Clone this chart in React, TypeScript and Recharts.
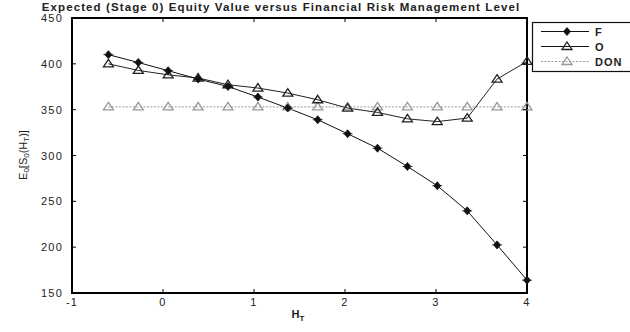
import React from 'react';
import { LineChart, Line, XAxis, YAxis } from 'recharts';

const hValues = [-0.6, -0.271, 0.057, 0.386, 0.714, 1.043, 1.371, 1.7, 2.029, 2.357, 2.686, 3.014, 3.343, 3.671, 4.0];
const fValues = [410, 401.5, 392.5, 383.4, 375.3, 363.8, 351.7, 339, 323.7, 308, 288, 267, 239.6, 202.5, 164];
const oValues = [400, 392.8, 388, 384.5, 377.2, 373.6, 368.1, 360.8, 351.7, 347, 340, 337, 340.8, 383.4, 402.6];
const donValues = [353, 353, 353, 353, 353, 353, 353, 353, 353, 353, 353, 353, 353, 353, 353];
const xTicks = [-1, 0, 1, 2, 3, 4];
const yTicks = [150, 200, 250, 300, 350, 400, 450];
const seriesNames = ['F', 'O', 'DON'];

const data = hValues.map((h, i) => ({ h, F: fValues[i], O: oValues[i], DON: donValues[i] }));

const FONT = '"Liberation Sans", Arial, sans-serif';
const PLOT = { left: 72, top: 18, right: 527, bottom: 293 };

const XTick = (props: any) => {
  const { x, y, payload } = props;
  return (
    <g>
      <line x1={x} y1={y} x2={x} y2={y - 4} stroke="#000" strokeWidth={1} />
      <line x1={x} y1={PLOT.top} x2={x} y2={PLOT.top + 4} stroke="#000" strokeWidth={1} />
      <text x={x} y={y + 13} textAnchor="middle" fontSize={11} fontFamily={FONT} fill="#222" letterSpacing={1.2}>{payload.value}</text>
    </g>
  );
};

const YTick = (props: any) => {
  const { x, y, payload } = props;
  return (
    <g>
      <line x1={x} y1={y} x2={x + 4} y2={y} stroke="#000" strokeWidth={1} />
      <line x1={PLOT.right} y1={y} x2={PLOT.right - 4} y2={y} stroke="#000" strokeWidth={1} />
      <text x={x - 9} y={y + 4} textAnchor="end" fontSize={11} fontFamily={FONT} fill="#222" letterSpacing={1.2}>{payload.value}</text>
    </g>
  );
};

const DiamondDot = (props: any) => {
  const { cx, cy } = props;
  if (cx == null || cy == null) return <g />;
  return (
    <g>
      <path d={`M${cx},${cy - 4} L${cx + 3.5},${cy} L${cx},${cy + 4} L${cx - 3.5},${cy} Z`} fill="#111" stroke="#111" strokeWidth={0.8} />
      <line x1={cx - 5} y1={cy} x2={cx + 5} y2={cy} stroke="#111" strokeWidth={0.8} />
    </g>
  );
};

const TriDot = (color: string) => (props: any) => {
  const { cx, cy } = props;
  if (cx == null || cy == null) return <g />;
  return (
    <path d={`M${cx},${cy - 4.5} L${cx + 5},${cy + 3} L${cx - 5},${cy + 3} Z`} fill="none" stroke={color} strokeWidth={1.3} />
  );
};

const BlackTri = TriDot('#222');
const GrayTri = TriDot('#999');

const LegendBox = () => {
  const styles = [
    { color: '#111', dash: undefined as string | undefined, marker: 'd' },
    { color: '#111', dash: undefined, marker: 't' },
    { color: '#999', dash: '2 1.5', marker: 'g' },
  ];
  return (
    <g transform="translate(532,22)">
      <rect x={0.5} y={0.5} width={100} height={49} fill="#fff" stroke="#111" strokeWidth={1.2} />
      {seriesNames.map((name, i) => {
        const r = styles[i];
        const y = 9.5 + i * 15;
        return (
          <g key={name}>
            <line x1={9} y1={y} x2={57} y2={y} stroke={r.color} strokeWidth={1.2} strokeDasharray={r.dash} />
            {r.marker === 'd' ? <DiamondDot cx={35} cy={y} /> : r.marker === 't' ? <BlackTri cx={35} cy={y} /> : <GrayTri cx={35} cy={y} />}
            <text x={63} y={y + 4} fontSize={11} fontWeight="bold" fontFamily={FONT} fill="#222" letterSpacing={1}>{name}</text>
          </g>
        );
      })}
    </g>
  );
};

export default function App() {
  return (
    <div style={{ position: 'absolute', left: 0, top: 0, width: 630, height: 332, background: '#fff' }}>
      <svg width={630} height={332} style={{ position: 'absolute', left: 0, top: 0 }}>
        <path d={`M${PLOT.left},${PLOT.top} H${PLOT.right} V${PLOT.bottom} H${PLOT.left} Z`} fill="none" stroke="#000" strokeWidth={2} />
      </svg>
      <div style={{ position: 'absolute', left: 0, top: 0 }}>
        <LineChart width={630} height={332} data={data} margin={{ top: 18, right: 103, bottom: 19, left: 42 }}>
          <XAxis dataKey="h" type="number" domain={[-1, 4]} ticks={xTicks} tickSize={0} tickMargin={0}
            axisLine={false} tickLine={false} tick={<XTick />} height={20} />
          <YAxis type="number" domain={[150, 450]} ticks={yTicks} tickSize={0} tickMargin={0}
            axisLine={false} tickLine={false} tick={<YTick />} width={30} />
          <Line dataKey="DON" stroke="#999" strokeWidth={1} strokeDasharray="2 1.5" dot={<GrayTri />} isAnimationActive={false} />
          <Line dataKey="O" stroke="#222" strokeWidth={1} dot={<BlackTri />} isAnimationActive={false} />
          <Line dataKey="F" stroke="#111" strokeWidth={1} dot={<DiamondDot />} isAnimationActive={false} />
        </LineChart>
      </div>
      <svg width={630} height={332} style={{ position: 'absolute', left: 0, top: 0, pointerEvents: 'none' }}>
        <text x={281} y={10.5} textAnchor="middle" fontSize={11.5} fontWeight="bold" fontFamily={FONT} fill="#222" letterSpacing={1.1}>
          Expected (Stage 0) Equity Value versus Financial Risk Management Level
        </text>
        <text x={298} y={318} textAnchor="middle" fontSize={11} fontFamily={FONT} fill="#222" fontWeight="bold">
          H<tspan fontSize={8} dy={3}>T</tspan>
        </text>
        <text transform="translate(27,155) rotate(-90)" textAnchor="middle" fontSize={11} fontFamily={FONT} fill="#222">
          E<tspan fontSize={8} dy={2}>0</tspan><tspan dy={-2}>[S</tspan><tspan fontSize={8} dy={2}>0</tspan><tspan dy={-2}>(H</tspan><tspan fontSize={8} dy={2}>T</tspan><tspan dy={-2}>)]</tspan>
        </text>
        <LegendBox />
      </svg>
    </div>
  );
}
